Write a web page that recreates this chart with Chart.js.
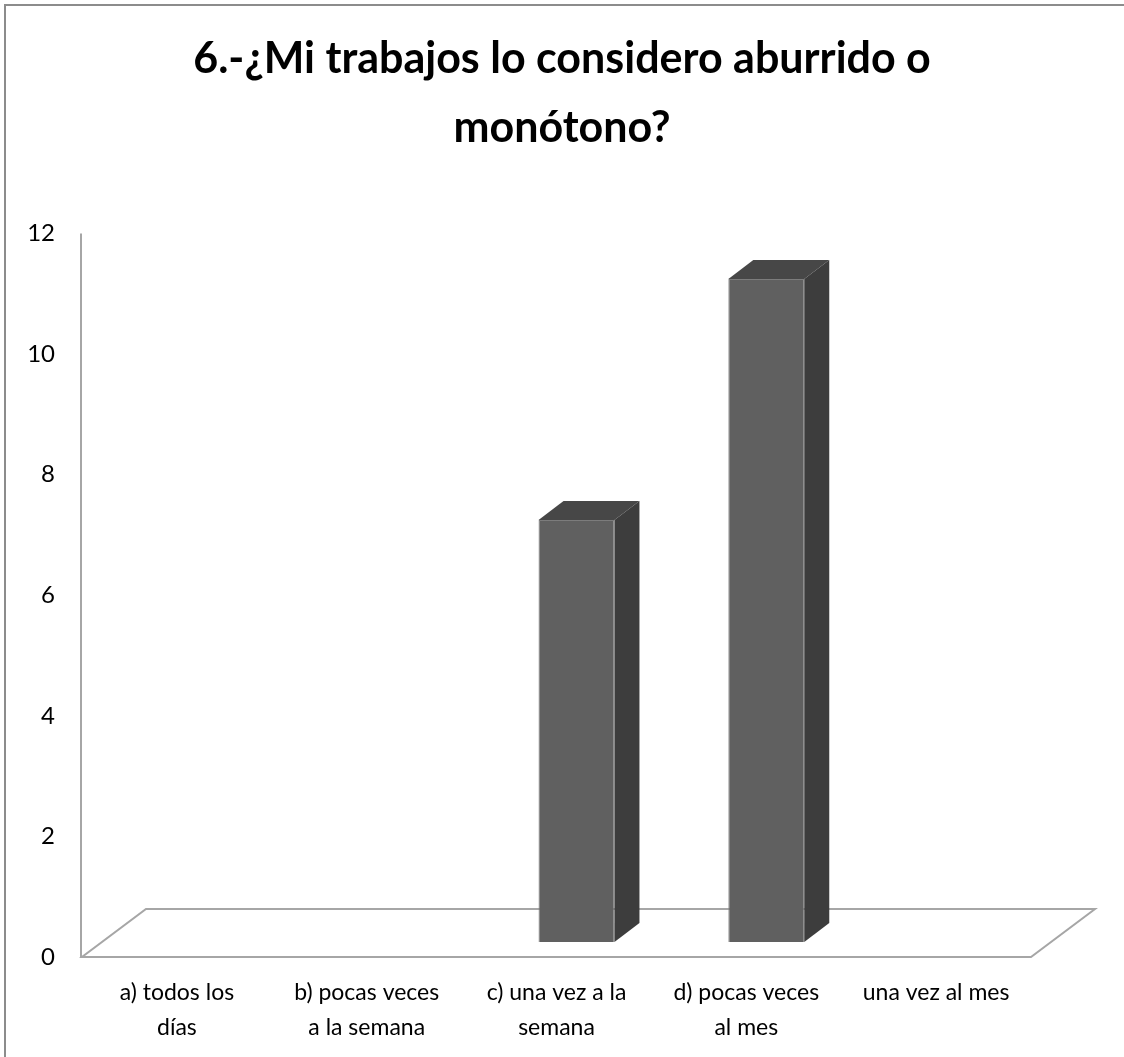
<!DOCTYPE html>
<html>
<head>
<meta charset="utf-8">
<title>6.-¿Mi trabajos lo considero aburrido o monótono?</title>
<script src="https://cdn.jsdelivr.net/npm/chart.js@4.4.1/dist/chart.umd.min.js"></script>
<style>
  html, body { margin: 0; padding: 0; background: #fff; }
  canvas { display: block; }
</style>
</head>
<body>
<canvas id="chart__trabajo" width="1124" height="1057"></canvas>
<script>
// respuestas de la pregunta 6
var categories = [
  ['a) todos los', 'días'],
  ['b) pocas veces', 'a la semana'],
  ['c) una vez a la', 'semana'],
  ['d) pocas veces', 'al mes'],
  'una vez al mes'
];
var counts = [0, 0, 7, 11, 0];
var yTicks = [0, 2, 4, 6, 8, 10, 12];

var titleLines = ['6.-¿Mi trabajos lo considero aburrido o', 'monótono?'];

// fake 3d: floor depth and where the columns sit inside it
var floorDepth = { x: 64, y: -48 };
var barShift = { x: 20, y: -15 };
var barDepth = { x: 25, y: -19 };

document.addEventListener('DOMContentLoaded', function () {

  var frame3d = {
    id: 'frame3d',
    beforeDraw: function (chart) {
      var ctx = chart.ctx;
      ctx.save();
      ctx.fillStyle = '#ffffff';
      ctx.fillRect(0, 0, chart.width, chart.height);
      // outer frame (top + left only)
      ctx.strokeStyle = '#8c8c8c';
      ctx.lineWidth = 2;
      ctx.beginPath();
      ctx.moveTo(5, chart.height);
      ctx.lineTo(5, 5);
      ctx.lineTo(chart.width, 5);
      ctx.stroke();
      ctx.restore();
    },
    beforeDatasetsDraw: function (chart) {
      var ctx = chart.ctx;
      var area = chart.chartArea;
      var y = chart.scales.y;
      var y0 = y.getPixelForValue(0);
      var yTop = y.getPixelForValue(yTicks[yTicks.length - 1]);

      ctx.save();
      ctx.strokeStyle = '#a6a6a6';
      ctx.lineWidth = 2;
      // value axis
      ctx.beginPath();
      ctx.moveTo(area.left - 1, yTop);
      ctx.lineTo(area.left - 1, y0);
      ctx.stroke();
      // floor
      ctx.beginPath();
      ctx.moveTo(area.left, y0);
      ctx.lineTo(area.right, y0);
      ctx.lineTo(area.right + floorDepth.x, y0 + floorDepth.y);
      ctx.lineTo(area.left + floorDepth.x, y0 + floorDepth.y);
      ctx.closePath();
      ctx.stroke();
      ctx.restore();

      // columns stand in the middle of the floor
      ctx.save();
      ctx.translate(barShift.x, barShift.y);
    },
    afterDatasetsDraw: function (chart) {
      var ctx = chart.ctx;
      ctx.restore();

      var meta = chart.getDatasetMeta(0);
      ctx.save();
      ctx.translate(barShift.x, barShift.y);
      meta.data.forEach(function (bar) {
        var p = bar.getProps(['x', 'y', 'base', 'width'], true);
        if (Math.abs(p.base - p.y) < 1) return;
        var l = p.x - p.width / 2;
        var r = p.x + p.width / 2;

        // top face
        ctx.fillStyle = '#474747';
        ctx.beginPath();
        ctx.moveTo(l, p.y);
        ctx.lineTo(l + barDepth.x, p.y + barDepth.y);
        ctx.lineTo(r + barDepth.x, p.y + barDepth.y);
        ctx.lineTo(r, p.y);
        ctx.closePath();
        ctx.fill();

        // side face
        ctx.fillStyle = '#3d3d3d';
        ctx.beginPath();
        ctx.moveTo(r, p.y);
        ctx.lineTo(r + barDepth.x, p.y + barDepth.y);
        ctx.lineTo(r + barDepth.x, p.base + barDepth.y);
        ctx.lineTo(r, p.base);
        ctx.closePath();
        ctx.fill();
      });
      ctx.restore();
    }
  };

  var ctx = document.getElementById('chart__trabajo').getContext('2d');
  var chart__trabajo = new Chart(ctx, {
    type: 'bar',
    data: {
      labels: categories,
      datasets: [{
        label: 'Respuestas',
        data: counts,
        backgroundColor: '#606060',
        borderColor: '#7c7c7c',
        borderWidth: 1,
        barPercentage: 0.8,
        categoryPercentage: 0.5
      }]
    },
    options: {
      responsive: false,
      animation: false,
      layout: {
        padding: 0
      },
      plugins: {
        legend: { display: false },
        tooltip: { enabled: false },
        title: {
          display: true,
          text: titleLines,
          color: '#000000',
          font: { family: 'Lato', size: 43, weight: 'bold', lineHeight: 1.6 },
          padding: { top: 25, bottom: 71 }
        }
      },
      scales: {
        x: {
          grid: { display: false, drawTicks: false },
          border: { display: false },
          ticks: {
            color: '#000000',
            font: { family: 'Lato', size: 23, lineHeight: 1.52 },
            padding: 18,
            maxRotation: 0,
            autoSkip: false
          },
          afterFit: function (scale) { scale.height = 100; }
        },
        y: {
          min: yTicks[0],
          max: yTicks[yTicks.length - 1],
          grid: { display: false, drawTicks: false },
          border: { display: false },
          afterBuildTicks: function (scale) {
            scale.ticks = yTicks.map(function (v) { return { value: v }; });
          },
          ticks: {
            color: '#000000',
            font: { family: 'Lato', size: 24 },
            padding: 27
          },
          afterFit: function (scale) { scale.width = 82; }
        },
        // empty right axis: keeps room for the floor depth
        depth: {
          position: 'right',
          display: true,
          grid: { display: false, drawTicks: false },
          border: { display: false },
          ticks: { display: false },
          afterFit: function (scale) { scale.width = 93; }
        }
      }
    },
    plugins: [frame3d]
  });

});
</script>
</body>
</html>
